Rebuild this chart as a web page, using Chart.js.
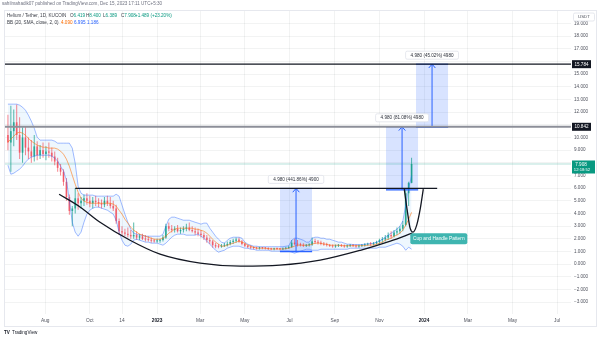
<!DOCTYPE html>
<html>
<head>
<meta charset="utf-8">
<title>Helium / Tether, 1D, KUCOIN</title>
<script src="https://cdn.jsdelivr.net/npm/chart.js@4.4.1/dist/chart.umd.min.js"></script>
<style>
  html, body { margin: 0; padding: 0; background: #ffffff; }
  #stage { position: relative; width: 600px; height: 340px; overflow: hidden;
           font-family: "Liberation Sans", Arial, sans-serif; }
  #frame { position: absolute; left: 4px; top: 10px; width: 593px; height: 317px;
           border: 1px solid #e6e8ee; box-sizing: border-box; }
  #chart { position: absolute; left: 0; top: 0; }
  .txt { position: absolute; white-space: nowrap; font-size: 4.6px; line-height: 6px; color: #3b3e47; }
  .up { color: #089981; }
  .basis { color: #ff6d00; }
  .band { color: #2962ff; }
</style>
</head>
<body>
<div id="stage">
  <div id="frame"></div>
  <canvas id="chart" width="600" height="340"></canvas>
  <div class="txt" style="left:2px;top:1px;color:#6f7280">sahilmahadik07 published on TradingView.com, Dec 15, 2023 17:11 UTC+5:30</div>
  <div class="txt" style="left:7px;top:13px">Helium / Tether, 1D, KUCOIN</div>
  <div class="txt" style="left:70px;top:13px">O<span class="up" id="vO"></span></div>
  <div class="txt" style="left:86px;top:13px">H<span class="up" id="vH"></span></div>
  <div class="txt" style="left:103px;top:13px">L<span class="up" id="vL"></span></div>
  <div class="txt" style="left:121px;top:13px">C<span class="up" id="vC"></span></div>
  <div class="txt up" style="left:135px;top:13px" id="vChg"></div>
  <div class="txt" style="left:7px;top:20px">BB (20, SMA, close, 2, 0)</div>
  <div class="txt basis" style="left:61px;top:20px" id="vBasis"></div>
  <div class="txt band" style="left:74px;top:20px" id="vUpper"></div>
  <div class="txt band" style="left:87px;top:20px" id="vLower"></div>
  <div class="txt" style="left:4px;top:330px;font-weight:bold;color:#131722">TV</div>
  <div class="txt" style="left:12px;top:330px;color:#131722">TradingView</div>
</div>
<script>
// HNT/USDT daily, sampled every 4 days; day 0 = 1 Jan 2023
const firstDay = -204;
const stepDays = 4;
const firstOpen = 10.2;

const closes = [
  9.6, 10.5, 11.2, 10.2, 8.8, 10.0, 9.2, 8.9, 8.5, 9.3,
  8.6, 9.0, 8.7, 8.9, 8.8, 8.5, 8.1, 7.6, 7.3, 6.5,
  5.3, 4.2, 4.4, 5.2, 4.8, 5.0, 5.2, 5.0, 4.8, 5.0,
  4.9, 4.8, 4.7, 5.0, 4.8, 4.6, 4.4, 3.4, 2.6, 2.5,
  2.4, 2.3, 2.2, 2.3, 2.1, 2.2, 2.0, 1.95, 1.9, 1.85,
  1.8, 1.85, 1.9, 2.1, 3.0, 2.8, 2.7, 2.8, 2.6, 2.7,
  2.8, 2.9, 2.7, 2.6, 2.5, 2.4, 2.3, 2.1, 1.9, 1.8,
  1.5, 1.4, 1.38, 1.45, 1.5, 1.6, 1.75, 1.85, 1.95, 1.8,
  1.6, 1.45, 1.35, 1.3, 1.28, 1.25, 1.3, 1.27, 1.24, 1.2,
  1.18, 1.22, 1.2, 1.17, 1.22, 1.28, 1.35, 1.7, 1.6, 1.55,
  1.5, 1.45, 1.5, 1.55, 1.8, 1.75, 1.7, 1.6, 1.55, 1.5,
  1.45, 1.4, 1.45, 1.5, 1.45, 1.4, 1.45, 1.5, 1.45, 1.4,
  1.45, 1.5, 1.55, 1.6, 1.58, 1.65, 1.75, 1.9, 1.95, 2.1,
  2.3, 2.2, 2.5, 2.6, 2.8, 3.1, 5.6, 6.419, 7.908
];
const highs = [
  11.8, 12.5, 12.2, 12.6, 11.6, 10.8, 10.9, 10.0, 9.8, 10.2,
  9.7, 9.4, 9.6, 9.3, 9.6, 9.2, 8.9, 8.4, 7.9, 7.5,
  6.8, 5.5, 4.6, 6.0, 5.6, 5.3, 5.5, 5.6, 5.4, 5.3,
  5.4, 5.2, 5.1, 5.3, 5.4, 5.3, 5.0, 4.7, 3.6, 3.0,
  2.8, 2.9, 2.7, 3.3, 2.6, 2.4, 2.4, 2.3, 2.2, 2.1,
  2.0, 2.0, 2.0, 2.3, 3.2, 3.3, 3.1, 3.0, 3.1, 2.9,
  3.0, 3.2, 3.3, 3.0, 2.9, 2.8, 2.7, 2.5, 2.3, 2.1,
  1.9, 1.7, 1.6, 1.6, 1.7, 1.8, 1.9, 2.0, 2.1, 2.1,
  1.9, 1.7, 1.55, 1.5, 1.4, 1.38, 1.38, 1.36, 1.35, 1.33,
  1.3, 1.3, 1.32, 1.28, 1.32, 1.38, 1.45, 1.9, 2.0, 1.9,
  1.7, 1.65, 1.6, 1.65, 2.1, 2.0, 1.9, 1.85, 1.75, 1.7,
  1.6, 1.55, 1.55, 1.6, 1.6, 1.55, 1.55, 1.6, 1.6, 1.55,
  1.55, 1.6, 1.65, 1.7, 1.75, 1.75, 1.85, 2.0, 2.15, 2.3,
  2.5, 2.6, 2.7, 2.9, 3.0, 3.4, 6.0, 6.5, 8.4
];
const lows = [
  9.0, 7.3, 9.3, 9.8, 8.3, 8.0, 8.6, 8.3, 8.0, 8.1,
  8.2, 8.3, 8.4, 8.2, 8.4, 8.1, 7.8, 7.3, 7.0, 6.2,
  5.0, 3.9, 3.0, 4.0, 4.3, 4.4, 4.6, 4.7, 4.5, 4.4,
  4.6, 4.5, 4.4, 4.5, 4.6, 4.4, 4.2, 3.2, 2.3, 2.2,
  2.2, 2.1, 2.0, 2.0, 1.9, 1.9, 1.9, 1.8, 1.8, 1.7,
  1.7, 1.7, 1.7, 1.8, 2.0, 2.6, 2.5, 2.5, 2.5, 2.4,
  2.5, 2.6, 2.6, 2.5, 2.3, 2.2, 2.1, 1.9, 1.7, 1.6,
  1.3, 1.25, 1.25, 1.3, 1.35, 1.4, 1.5, 1.6, 1.7, 1.7,
  1.5, 1.35, 1.25, 1.2, 1.15, 1.15, 1.15, 1.18, 1.15, 1.12,
  1.1, 1.1, 1.13, 1.1, 1.12, 1.15, 1.2, 1.3, 1.5, 1.4,
  1.4, 1.35, 1.35, 1.4, 1.45, 1.6, 1.55, 1.5, 1.45, 1.4,
  1.35, 1.3, 1.3, 1.35, 1.35, 1.3, 1.3, 1.35, 1.35, 1.3,
  1.3, 1.35, 1.4, 1.45, 1.45, 1.5, 1.55, 1.6, 1.7, 1.8,
  1.9, 2.0, 2.1, 2.3, 2.4, 2.6, 3.0, 4.6, 6.389
];

// Bollinger Bands (20, SMA, close, 2) at the same dates
const bbUpper = [
  12.63, 12.63, 12.63, 12.63, 12.55, 12.39, 12.15, 11.76, 11.29, 10.73,
  10.02, 9.79, 9.79, 9.79, 9.79, 9.79, 9.71, 9.55, 9.55, 9.55,
  9.55, 9.55, 9.16, 7.97, 6.16, 5.60, 5.45, 5.45, 5.45, 5.45,
  5.37, 5.37, 5.37, 5.37, 5.37, 5.37, 5.37, 5.52, 5.37, 4.66,
  3.95, 3.31, 2.76, 2.45, 2.37, 2.29, 2.29, 2.21, 2.21, 2.21,
  2.21, 2.21, 2.21, 2.37, 3.00, 3.55, 3.71, 3.71, 3.63, 3.55,
  3.47, 3.47, 3.47, 3.39, 3.31, 3.24, 3.16, 3.24, 3.24, 2.84,
  2.53, 2.21, 1.97, 1.74, 1.66, 1.89, 2.05, 2.13, 2.13, 2.13,
  2.05, 1.74, 1.58, 1.50, 1.42, 1.42, 1.38, 1.38, 1.38, 1.38,
  1.38, 1.38, 1.38, 1.38, 1.38, 1.42, 1.45, 1.89, 2.05, 2.05,
  1.97, 1.89, 1.74, 1.74, 2.05, 2.13, 2.13, 2.05, 2.05, 1.97,
  1.97, 1.89, 1.82, 1.74, 1.74, 1.66, 1.58, 1.58, 1.55, 1.55,
  1.55, 1.55, 1.58, 1.60, 1.62, 1.66, 1.74, 1.82, 1.97, 2.13,
  2.29, 2.45, 2.60, 2.76, 3.00, 3.40, 4.66, 6.00, 6.995
];
const bbBasis = [
  9.63, 9.87, 10.10, 10.34, 10.42, 10.34, 10.18, 9.94, 9.71, 9.55,
  9.39, 9.31, 9.23, 9.23, 9.16, 9.16, 9.16, 9.08, 8.92, 8.68,
  8.29, 7.73, 7.02, 6.31, 5.68, 5.21, 4.97, 4.89, 4.81, 4.81,
  4.81, 4.81, 4.81, 4.81, 4.81, 4.81, 4.74, 4.58, 4.26, 3.95,
  3.55, 3.24, 2.92, 2.68, 2.53, 2.37, 2.29, 2.21, 2.13, 2.05,
  1.97, 1.97, 1.97, 2.05, 2.21, 2.45, 2.60, 2.76, 2.84, 2.84,
  2.84, 2.84, 2.84, 2.84, 2.76, 2.76, 2.68, 2.60, 2.45, 2.21,
  1.97, 1.74, 1.58, 1.42, 1.42, 1.50, 1.58, 1.66, 1.74, 1.82,
  1.74, 1.66, 1.50, 1.42, 1.34, 1.26, 1.26, 1.26, 1.26, 1.22,
  1.20, 1.20, 1.20, 1.20, 1.20, 1.22, 1.26, 1.34, 1.42, 1.50,
  1.50, 1.50, 1.50, 1.50, 1.58, 1.66, 1.66, 1.66, 1.58, 1.58,
  1.50, 1.50, 1.50, 1.50, 1.46, 1.46, 1.46, 1.46, 1.46, 1.46,
  1.46, 1.46, 1.46, 1.50, 1.50, 1.52, 1.58, 1.66, 1.74, 1.89,
  1.97, 2.05, 2.21, 2.29, 2.45, 2.68, 3.08, 3.55, 4.09
];
const bbLower = [
  7.81, 7.10, 7.18, 7.34, 7.50, 7.73, 8.05, 8.29, 8.45, 8.52,
  8.60, 8.60, 8.60, 8.60, 8.60, 8.52, 8.37, 8.13, 7.73, 7.34,
  6.63, 5.05, 3.31, 2.53, 2.21, 2.53, 3.31, 3.95, 4.26, 4.42,
  4.50, 4.50, 4.42, 4.34, 4.26, 4.10, 3.95, 3.47, 2.53, 1.89,
  1.50, 1.42, 1.58, 1.89, 1.97, 1.89, 1.82, 1.74, 1.74, 1.66,
  1.66, 1.66, 1.58, 1.50, 1.66, 1.89, 2.13, 2.29, 2.37, 2.37,
  2.37, 2.29, 2.29, 2.29, 2.29, 2.37, 2.21, 2.05, 1.82, 1.58,
  1.34, 1.10, 0.95, 1.03, 1.10, 1.26, 1.34, 1.42, 1.42, 1.42,
  1.34, 1.26, 1.26, 1.18, 1.18, 1.10, 1.10, 1.10, 1.10, 1.10,
  1.03, 1.03, 1.03, 1.03, 1.03, 1.03, 1.03, 0.95, 0.87, 0.95,
  1.03, 1.10, 1.18, 1.18, 1.10, 1.10, 1.10, 1.18, 1.18, 1.18,
  1.18, 1.18, 1.18, 1.18, 1.18, 1.18, 1.18, 1.26, 1.26, 1.26,
  1.26, 1.26, 1.26, 1.26, 1.26, 1.26, 1.26, 1.34, 1.34, 1.34,
  1.42, 1.50, 1.58, 1.66, 1.58, 1.42, 1.10, 1.34, 1.186
];

// Hand-drawn cup and handle
const cupDays = [-134, -105, -78, -37, 4, 59, 114, 168, 223, 278, 319, 349];
const cupValues = [5.52, 4.50, 3.31, 1.89, 0.79, 0.08, -0.16, -0.08, 0.32, 1.10, 1.82, 2.45];
const handleDays = [338, 342, 346, 350, 355, 360, 364];
const handleValues = [5.92, 4.26, 2.84, 2.53, 3.08, 4.42, 5.92];
const necklineDays = [-112, 383];
const neckline = 5.98;

// Horizontal levels
const levels = [15.784, 10.842];

// Price-range measurements
const rangeStartDays = [168, 313, 354];
const rangeEndDays = [212, 357, 398];
const rangeBases = [1.0, 5.862, 10.804];
const rangeChange = 4.98;
const rangeLabels = ['4.980 (441.86%) 4900', '4.980 (81.08%) 4980', '4.980 (45.02%) 4980'];
const patternLabel = 'Cup and Handle Pattern';
const countdown = '12:18:52';
const dayChange = '+1.489 (+23.20%)';

// Axes
const tickDays = [-153, -92, -48, 0, 59, 120, 181, 243, 304, 365, 425, 486, 547];
const tickLabels = ['Aug', 'Oct', '14', '2023', 'Mar', 'May', 'Jul', 'Sep', 'Nov', '2024', 'Mar', 'May', 'Jul'];
const priceTicks = [-3, -2, -1, 0, 1, 2, 3, 4, 5, 6, 7, 8, 9, 10, 11, 12, 13, 14, 15, 16, 17, 18, 19];
const xMin = -208, xMax = 566;
const yMin = -3.93, yMax = 19.98;

const FONT = '"Liberation Sans", Arial, sans-serif';
Chart.defaults.font.family = FONT;

const days = closes.map((_, i) => firstDay + i * stepDays);
const opens = closes.map((_, i) => (i === 0 ? firstOpen : closes[i - 1]));
const last = closes.length - 1;

// legend values
const fmt = v => v.toFixed(3);
document.getElementById('vO').textContent = fmt(opens[last]);
document.getElementById('vH').textContent = fmt(highs[last]);
document.getElementById('vL').textContent = fmt(lows[last]);
document.getElementById('vC').textContent = fmt(closes[last]);
document.getElementById('vChg').textContent = dayChange;
document.getElementById('vBasis').textContent = fmt(bbBasis[last]);
document.getElementById('vUpper').textContent = fmt(bbUpper[last]);
document.getElementById('vLower').textContent = fmt(bbLower[last]);

const UP = 'rgba(8,153,129,0.68)';
const DOWN = 'rgba(242,54,69,0.6)';
const candleColor = ctx => (closes[ctx.dataIndex] >= opens[ctx.dataIndex] ? UP : DOWN);

const pts = (xs, ys) => xs.map((d, i) => ({ x: d, y: ys[i] }));
const flat = (d0, d1, v) => [{ x: d0, y: v }, { x: d1, y: v }];
const lineDs = (data, color, width, order, extra) => Object.assign({
  type: 'line', data, borderColor: color, borderWidth: width, pointRadius: 0,
  fill: false, tension: 0, order
}, extra || {});

const datasets = [];
// last price guide
datasets.push(lineDs(flat(xMin, xMax, closes[last]), 'rgba(8,153,129,0.3)', 1, 95));

// price-range boxes with arrows
rangeStartDays.forEach((d0, i) => {
  const d1 = rangeEndDays[i];
  const base = rangeBases[i];
  const top = base + rangeChange;
  const mid = (d0 + d1) / 2;
  datasets.push(lineDs(flat(d0, d1, top), 'rgba(0,0,0,0)', 0, 90,
    { fill: { value: base }, backgroundColor: 'rgba(41,98,255,0.18)' }));
  datasets.push(lineDs(flat(d0, d1, base), '#2962ff', 1.4, 30));
  datasets.push(lineDs(flat(d0, d1, top), '#2962ff', 1, 30));
  datasets.push(lineDs([{ x: mid, y: base }, { x: mid, y: top }], '#2962ff', 1, 30));
  datasets.push(lineDs([{ x: mid - 4.5, y: top - 0.3 }, { x: mid, y: top }, { x: mid + 4.5, y: top - 0.3 }],
    '#2962ff', 1, 30));
});

// Bollinger Bands
datasets.push(lineDs(pts(days, bbUpper), 'rgba(41,98,255,0.55)', 0.8, 50,
  { fill: '+1', backgroundColor: 'rgba(33,150,243,0.08)' }));
datasets.push(lineDs(pts(days, bbLower), 'rgba(41,98,255,0.55)', 0.8, 50));
datasets.push(lineDs(pts(days, bbBasis), 'rgba(255,109,0,0.7)', 0.8, 49));

// candles: wick + body as floating bars
datasets.push({
  type: 'bar', data: days.map((d, i) => ({ x: d, y: [lows[i], highs[i]] })),
  backgroundColor: candleColor, maxBarThickness: 1, grouped: false,
  minBarLength: 1, inflateAmount: 0, borderWidth: 0, order: 60
});
datasets.push({
  type: 'bar', data: days.map((d, i) => ({ x: d, y: [opens[i], closes[i]] })),
  backgroundColor: candleColor, maxBarThickness: 1.8, grouped: false,
  minBarLength: 1, inflateAmount: 0, borderWidth: 0, order: 59
});

// pattern drawing and levels
datasets.push(lineDs(pts(cupDays, cupValues), '#131722', 1.3, 20, { cubicInterpolationMode: 'monotone' }));
datasets.push(lineDs(pts(handleDays, handleValues), '#131722', 1.3, 20, { cubicInterpolationMode: 'monotone' }));
datasets.push(lineDs(flat(necklineDays[0], necklineDays[1], neckline), '#131722', 1.3, 20));
datasets.push(lineDs(flat(xMin, xMax, levels[0]), '#131722', 1.3, 20));
datasets.push(lineDs(flat(xMin, xMax, levels[1]), '#8c8f99', 2, 19));

const overlay = {
  id: 'overlay',
  afterDatasetsDraw(chart) {
    const { ctx, chartArea: area, scales: { x, y } } = chart;
    const font = (s, w) => `${w || 'normal'} ${s}px ${FONT}`;
    ctx.save();
    ctx.textAlign = 'center';
    ctx.textBaseline = 'middle';

    // range captions
    rangeLabels.forEach((text, i) => {
      const cx = x.getPixelForValue((rangeStartDays[i] + rangeEndDays[i]) / 2);
      const cy = y.getPixelForValue(rangeBases[i] + rangeChange) - 9;
      ctx.font = font(4.6);
      const w = ctx.measureText(text).width + 10, h = 8;
      ctx.fillStyle = '#ffffff';
      ctx.strokeStyle = '#dfe2ea';
      ctx.lineWidth = 0.8;
      ctx.beginPath();
      ctx.roundRect(cx - w / 2, cy - h / 2, w, h, 1.5);
      ctx.fill();
      ctx.stroke();
      ctx.fillStyle = '#2a2e39';
      ctx.fillText(text, cx, cy + 0.3);
    });

    // pattern tag at the end of the cup
    const px = x.getPixelForValue(cupDays[cupDays.length - 1]);
    const py = y.getPixelForValue(cupValues[cupValues.length - 1]);
    ctx.fillStyle = '#3fb5b0';
    ctx.beginPath();
    ctx.roundRect(px - 2, py, 57, 11, 2);
    ctx.fill();
    ctx.fillStyle = '#ffffff';
    ctx.font = font(4.8);
    ctx.fillText(patternLabel, px + 26.5, py + 5.7);

    // price scale tags
    const tagX = area.right + 1;
    levels.forEach(v => {
      const ty = y.getPixelForValue(v);
      ctx.fillStyle = '#131722';
      ctx.fillRect(tagX, ty - 4, 19, 8);
      ctx.fillStyle = '#ffffff';
      ctx.font = font(4.6);
      ctx.fillText(v.toFixed(3), tagX + 9.5, ty + 0.3);
    });
    const cy = y.getPixelForValue(closes[last]);
    ctx.fillStyle = '#089981';
    ctx.fillRect(tagX, cy - 3.5, 23, 13);
    ctx.fillStyle = '#ffffff';
    ctx.font = font(4.6);
    ctx.fillText(closes[last].toFixed(3), tagX + 9, cy + 0.3);
    ctx.font = font(4.2);
    ctx.fillText(countdown, tagX + 10, cy + 5.8);

    // currency badge
    ctx.fillStyle = '#ffffff';
    ctx.strokeStyle = '#dfe2ea';
    ctx.lineWidth = 0.8;
    ctx.beginPath();
    ctx.roundRect(tagX + 1.5, 13, 21, 8, 1.5);
    ctx.fill();
    ctx.stroke();
    ctx.fillStyle = '#50535e';
    ctx.font = font(4.4);
    ctx.fillText('USDT', tagX + 12, 17.2);
    ctx.restore();
  }
};

new Chart(document.getElementById('chart'), {
  type: 'bar',
  data: { datasets },
  plugins: [overlay],
  options: {
    responsive: false,
    animation: false,
    events: [],
    layout: { padding: { left: 5, top: 11, right: 4, bottom: 13 } },
    plugins: {
      legend: { display: false },
      tooltip: { enabled: false },
      filler: { drawTime: 'beforeDatasetsDraw' }
    },
    scales: {
      x: {
        type: 'linear', min: xMin, max: xMax, offset: false,
        grid: { color: 'rgba(42,46,57,0.06)', drawTicks: false, offset: false },
        border: { display: false },
        afterBuildTicks: s => { s.ticks = tickDays.map(v => ({ value: v })); },
        afterFit: s => { s.height = 13; },
        ticks: {
          autoSkip: false, maxRotation: 0, padding: 4,
          color: ctx => (/^\d{4}$/.test(tickLabels[ctx.index] || '') ? '#131722' : '#50535e'),
          font: ctx => ({ size: 4.8, family: FONT,
            weight: /^\d{4}$/.test(tickLabels[ctx.index] || '') ? 'bold' : 'normal' }),
          callback: (v, i) => tickLabels[i]
        }
      },
      y: {
        type: 'linear', position: 'right', min: yMin, max: yMax,
        grid: { color: 'rgba(42,46,57,0.06)', drawTicks: false },
        border: { display: false },
        afterBuildTicks: s => { s.ticks = priceTicks.map(v => ({ value: v })); },
        afterFit: s => { s.width = 25; },
        ticks: {
          autoSkip: false, padding: 3, color: '#50535e',
          font: { size: 4.6, family: FONT },
          callback: v => {
            const tags = levels.concat([closes[last]]);
            if (tags.some(t => Math.abs(t - v) < 0.45)) return '';
            return v < 0 ? '\u2212' + Math.abs(v).toFixed(3) : v.toFixed(3);
          }
        }
      }
    }
  }
});
</script>
</body>
</html>
